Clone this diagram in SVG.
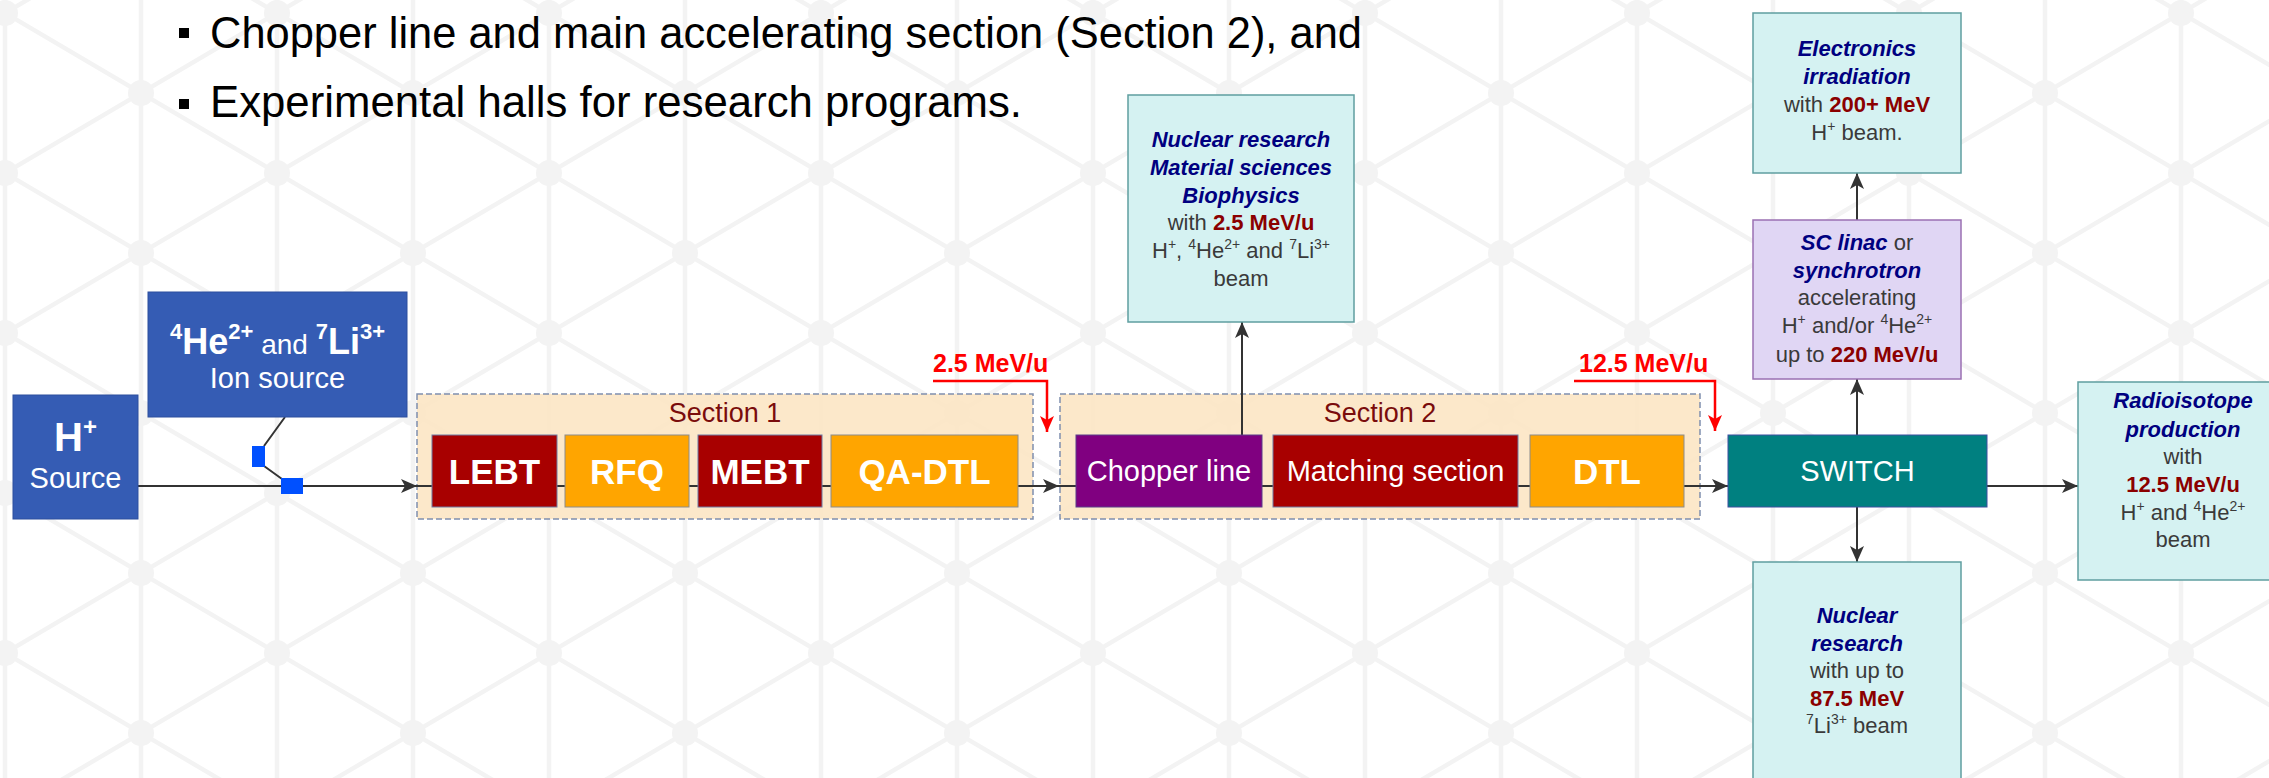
<svg xmlns="http://www.w3.org/2000/svg" width="2269" height="778" viewBox="0 0 2269 778">
<defs>
<style>
text{font-family:"Liberation Sans",Arial,sans-serif}
.bgl{stroke:#f3f3f3;stroke-width:4.5;fill:none}
.bgn{fill:#f3f3f3}
.conn{stroke:#333;stroke-width:2;fill:none}
.redc{stroke:#ff0000;stroke-width:2.5;fill:none}
.sec{fill:#fce6c4;fill-opacity:0.9;stroke:#7f8fae;stroke-width:1.5;stroke-dasharray:6 3}
.sect{font-size:27px;fill:#7a0c0c;text-anchor:middle}
.dred{fill:#a80000;stroke:#6d7aa3;stroke-width:1}
.orng{fill:#ffa500;stroke:#8c8c8c;stroke-width:1}
.purp{fill:#800080;stroke:#5a3d8a;stroke-width:1}
.teal{fill:#008080;stroke:#3d4fa0;stroke-width:1}
.blue{fill:#355cb4;stroke:#2d4f9e;stroke-width:1}
.wp{fill:#0050ff}
.wb{fill:#fff;font-weight:bold;font-size:35px;text-anchor:middle}
.wr{fill:#fff;font-size:29px;text-anchor:middle}
.cyan{fill:#d5f2f2;stroke:#5f9ea0;stroke-width:1.5}
.lav{fill:#e0d6f4;stroke:#9b70b3;stroke-width:1.5}
.bt{font-size:22px;fill:#3a3a3a;text-anchor:middle}
.bi{font-weight:bold;font-style:italic;fill:#000080}
.val{font-weight:bold;fill:#8b0000}
.sup{font-size:14px}
.lbl{font-size:25px;font-weight:bold;fill:#ff0000}
.top{font-size:44px;fill:#000}
</style>
<pattern id="hex" patternUnits="userSpaceOnUse" x="5" y="13" width="272" height="160">
<path class="bgl" d="M0,0 V160 M136,0 V160 M272,0 V160 M0,0 L272,160 M0,160 L272,0"/>
<circle class="bgn" cx="0" cy="0" r="13"/><circle class="bgn" cx="272" cy="0" r="13"/>
<circle class="bgn" cx="0" cy="160" r="13"/><circle class="bgn" cx="272" cy="160" r="13"/>
<circle class="bgn" cx="136" cy="80" r="13"/>
</pattern>
<marker id="ah" markerUnits="userSpaceOnUse" viewBox="0 0 16 14" refX="16" refY="7" markerWidth="16" markerHeight="14" orient="auto"><path d="M0,0 L16,7 L0,14 L4,7 Z" fill="#333"/></marker>
<marker id="ahr" markerUnits="userSpaceOnUse" viewBox="0 0 16 14" refX="16" refY="7" markerWidth="16" markerHeight="14" orient="auto"><path d="M0,0 L16,7 L0,14 L4,7 Z" fill="#ff0000"/></marker>
</defs>
<rect x="0" y="0" width="2269" height="778" fill="#fff"/>
<rect x="0" y="0" width="2269" height="778" fill="url(#hex)"/>

<g id="bullets">
<rect x="179" y="28" width="10" height="10" fill="#000"/>
<text class="top" x="210" y="48" textLength="1152" lengthAdjust="spacingAndGlyphs">Chopper line and main accelerating section (Section 2), and</text>
<rect x="179" y="99" width="10" height="10" fill="#000"/>
<text class="top" x="210" y="117" textLength="812" lengthAdjust="spacingAndGlyphs">Experimental halls for research programs.</text>
</g>

<g id="section1">
<rect class="sec" x="417" y="394" width="616" height="125"/>
<text class="sect" x="725" y="422">Section 1</text>
</g>
<g id="section2">
<rect class="sec" x="1060" y="394" width="640" height="125"/>
<text class="sect" x="1380" y="422">Section 2</text>
</g>

<g id="connectors">
<path class="conn" d="M138,486 H417" marker-end="url(#ah)"/>
<path class="conn" d="M417,486 H432"/>
<path class="conn" d="M285,417 L264,446 M264,466 L282,479"/>
<path class="conn" d="M557,486 H565 M689,486 H698 M822,486 H831"/>
<path class="conn" d="M1018,486 H1059" marker-end="url(#ah)"/>
<path class="conn" d="M1059,486 H1076 M1262,486 H1273 M1518,486 H1530"/>
<path class="conn" d="M1684,486 H1728" marker-end="url(#ah)"/>
<path class="conn" d="M1242,435 V322" marker-end="url(#ah)"/>
<path class="conn" d="M1857,435 V379" marker-end="url(#ah)"/>
<path class="conn" d="M1857,220 V173" marker-end="url(#ah)"/>
<path class="conn" d="M1857,507 V562" marker-end="url(#ah)"/>
<path class="conn" d="M1987,486 H2078" marker-end="url(#ah)"/>
<rect class="wp" x="252" y="446" width="13" height="21"/>
<rect class="wp" x="281" y="478" width="22" height="16"/>
<path class="redc" d="M933,381 H1047 V432" marker-end="url(#ahr)"/>
<path class="redc" d="M1574,381 H1715 V431" marker-end="url(#ahr)"/>
<text class="lbl" x="933" y="372">2.5 MeV/u</text>
<text class="lbl" x="1579" y="372">12.5 MeV/u</text>
</g>

<g id="h-source">
<rect class="blue" x="13" y="395" width="125" height="124"/>
<text x="75.5" y="451" text-anchor="middle" fill="#fff" font-size="40" font-weight="bold">H<tspan font-size="24" dy="-16">+</tspan></text>
<text x="75.5" y="488" text-anchor="middle" fill="#fff" font-size="29">Source</text>
</g>

<g id="ion-source">
<rect class="blue" x="148" y="292" width="259" height="125"/>
<text x="277.5" y="354" text-anchor="middle" fill="#fff"><tspan font-size="22" font-weight="bold" dy="-15">4</tspan><tspan font-size="36" font-weight="bold" dy="15">He</tspan><tspan font-size="22" font-weight="bold" dy="-15">2+</tspan><tspan font-size="28" dy="15"> and </tspan><tspan font-size="22" font-weight="bold" dy="-15">7</tspan><tspan font-size="36" font-weight="bold" dy="15">Li</tspan><tspan font-size="22" font-weight="bold" dy="-15">3+</tspan></text>
<text x="277.5" y="388" text-anchor="middle" fill="#fff" font-size="29">Ion source</text>
</g>

<g id="lebt"><rect class="dred" x="432" y="435" width="125" height="72"/><text class="wb" x="494.5" y="484">LEBT</text></g>
<g id="rfq"><rect class="orng" x="565" y="435" width="124" height="72"/><text class="wb" x="627" y="484">RFQ</text></g>
<g id="mebt"><rect class="dred" x="698" y="435" width="124" height="72"/><text class="wb" x="760" y="484">MEBT</text></g>
<g id="qa-dtl"><rect class="orng" x="831" y="435" width="187" height="72"/><text class="wb" x="924.5" y="484">QA-DTL</text></g>

<g id="chopper"><rect class="purp" x="1076" y="435" width="186" height="72"/><text class="wr" x="1169" y="481">Chopper line</text></g>
<g id="matching"><rect class="dred" x="1273" y="435" width="245" height="72"/><text class="wr" x="1395.5" y="481">Matching section</text></g>
<g id="dtl"><rect class="orng" x="1530" y="435" width="154" height="72"/><text class="wb" x="1607" y="484">DTL</text></g>

<g id="switch"><rect class="teal" x="1728" y="435" width="259" height="72"/><text class="wr" x="1857.5" y="481">SWITCH</text></g>

<g id="nuclear-research-low">
<rect class="cyan" x="1128" y="95" width="226" height="227"/>
<text class="bt" x="1241" y="147"><tspan class="bi">Nuclear research</tspan></text>
<text class="bt" x="1241" y="175"><tspan class="bi">Material sciences</tspan></text>
<text class="bt" x="1241" y="203"><tspan class="bi">Biophysics</tspan></text>
<text class="bt" x="1241" y="230">with <tspan class="val">2.5 MeV/u</tspan></text>
<text class="bt" x="1241" y="258">H<tspan class="sup" dy="-9">+</tspan><tspan dy="9">, </tspan><tspan class="sup" dy="-9">4</tspan><tspan dy="9">He</tspan><tspan class="sup" dy="-9">2+</tspan><tspan dy="9"> and </tspan><tspan class="sup" dy="-9">7</tspan><tspan dy="9">Li</tspan><tspan class="sup" dy="-9">3+</tspan></text>
<text class="bt" x="1241" y="286">beam</text>
</g>

<g id="electronics">
<rect class="cyan" x="1753" y="13" width="208" height="160"/>
<text class="bt" x="1857" y="56"><tspan class="bi">Electronics</tspan></text>
<text class="bt" x="1857" y="84"><tspan class="bi">irradiation</tspan></text>
<text class="bt" x="1857" y="112">with <tspan class="val">200+ MeV</tspan></text>
<text class="bt" x="1857" y="140">H<tspan class="sup" dy="-9">+</tspan><tspan dy="9"> beam.</tspan></text>
</g>

<g id="sc-linac">
<rect class="lav" x="1753" y="220" width="208" height="159"/>
<text class="bt" x="1857" y="250"><tspan class="bi">SC linac</tspan> or</text>
<text class="bt" x="1857" y="278"><tspan class="bi">synchrotron</tspan></text>
<text class="bt" x="1857" y="305">accelerating</text>
<text class="bt" x="1857" y="333">H<tspan class="sup" dy="-9">+</tspan><tspan dy="9"> and/or </tspan><tspan class="sup" dy="-9">4</tspan><tspan dy="9">He</tspan><tspan class="sup" dy="-9">2+</tspan></text>
<text class="bt" x="1857" y="362">up to <tspan class="val">220 MeV/u</tspan></text>
</g>

<g id="radioisotope">
<rect class="cyan" x="2078" y="382" width="210" height="198"/>
<text class="bt" x="2183" y="408"><tspan class="bi">Radioisotope</tspan></text>
<text class="bt" x="2183" y="437"><tspan class="bi">production</tspan></text>
<text class="bt" x="2183" y="464">with</text>
<text class="bt" x="2183" y="492"><tspan class="val">12.5 MeV/u</tspan></text>
<text class="bt" x="2183" y="520">H<tspan class="sup" dy="-9">+</tspan><tspan dy="9"> and </tspan><tspan class="sup" dy="-9">4</tspan><tspan dy="9">He</tspan><tspan class="sup" dy="-9">2+</tspan></text>
<text class="bt" x="2183" y="547">beam</text>
</g>

<g id="nuclear-research-high">
<rect class="cyan" x="1753" y="562" width="208" height="240"/>
<text class="bt" x="1857" y="623"><tspan class="bi">Nuclear</tspan></text>
<text class="bt" x="1857" y="651"><tspan class="bi">research</tspan></text>
<text class="bt" x="1857" y="678">with up to</text>
<text class="bt" x="1857" y="706"><tspan class="val">87.5 MeV</tspan></text>
<text class="bt" x="1857" y="733"><tspan class="sup" dy="-9">7</tspan><tspan dy="9">Li</tspan><tspan class="sup" dy="-9">3+</tspan><tspan dy="9"> beam</tspan></text>
</g>
</svg>
